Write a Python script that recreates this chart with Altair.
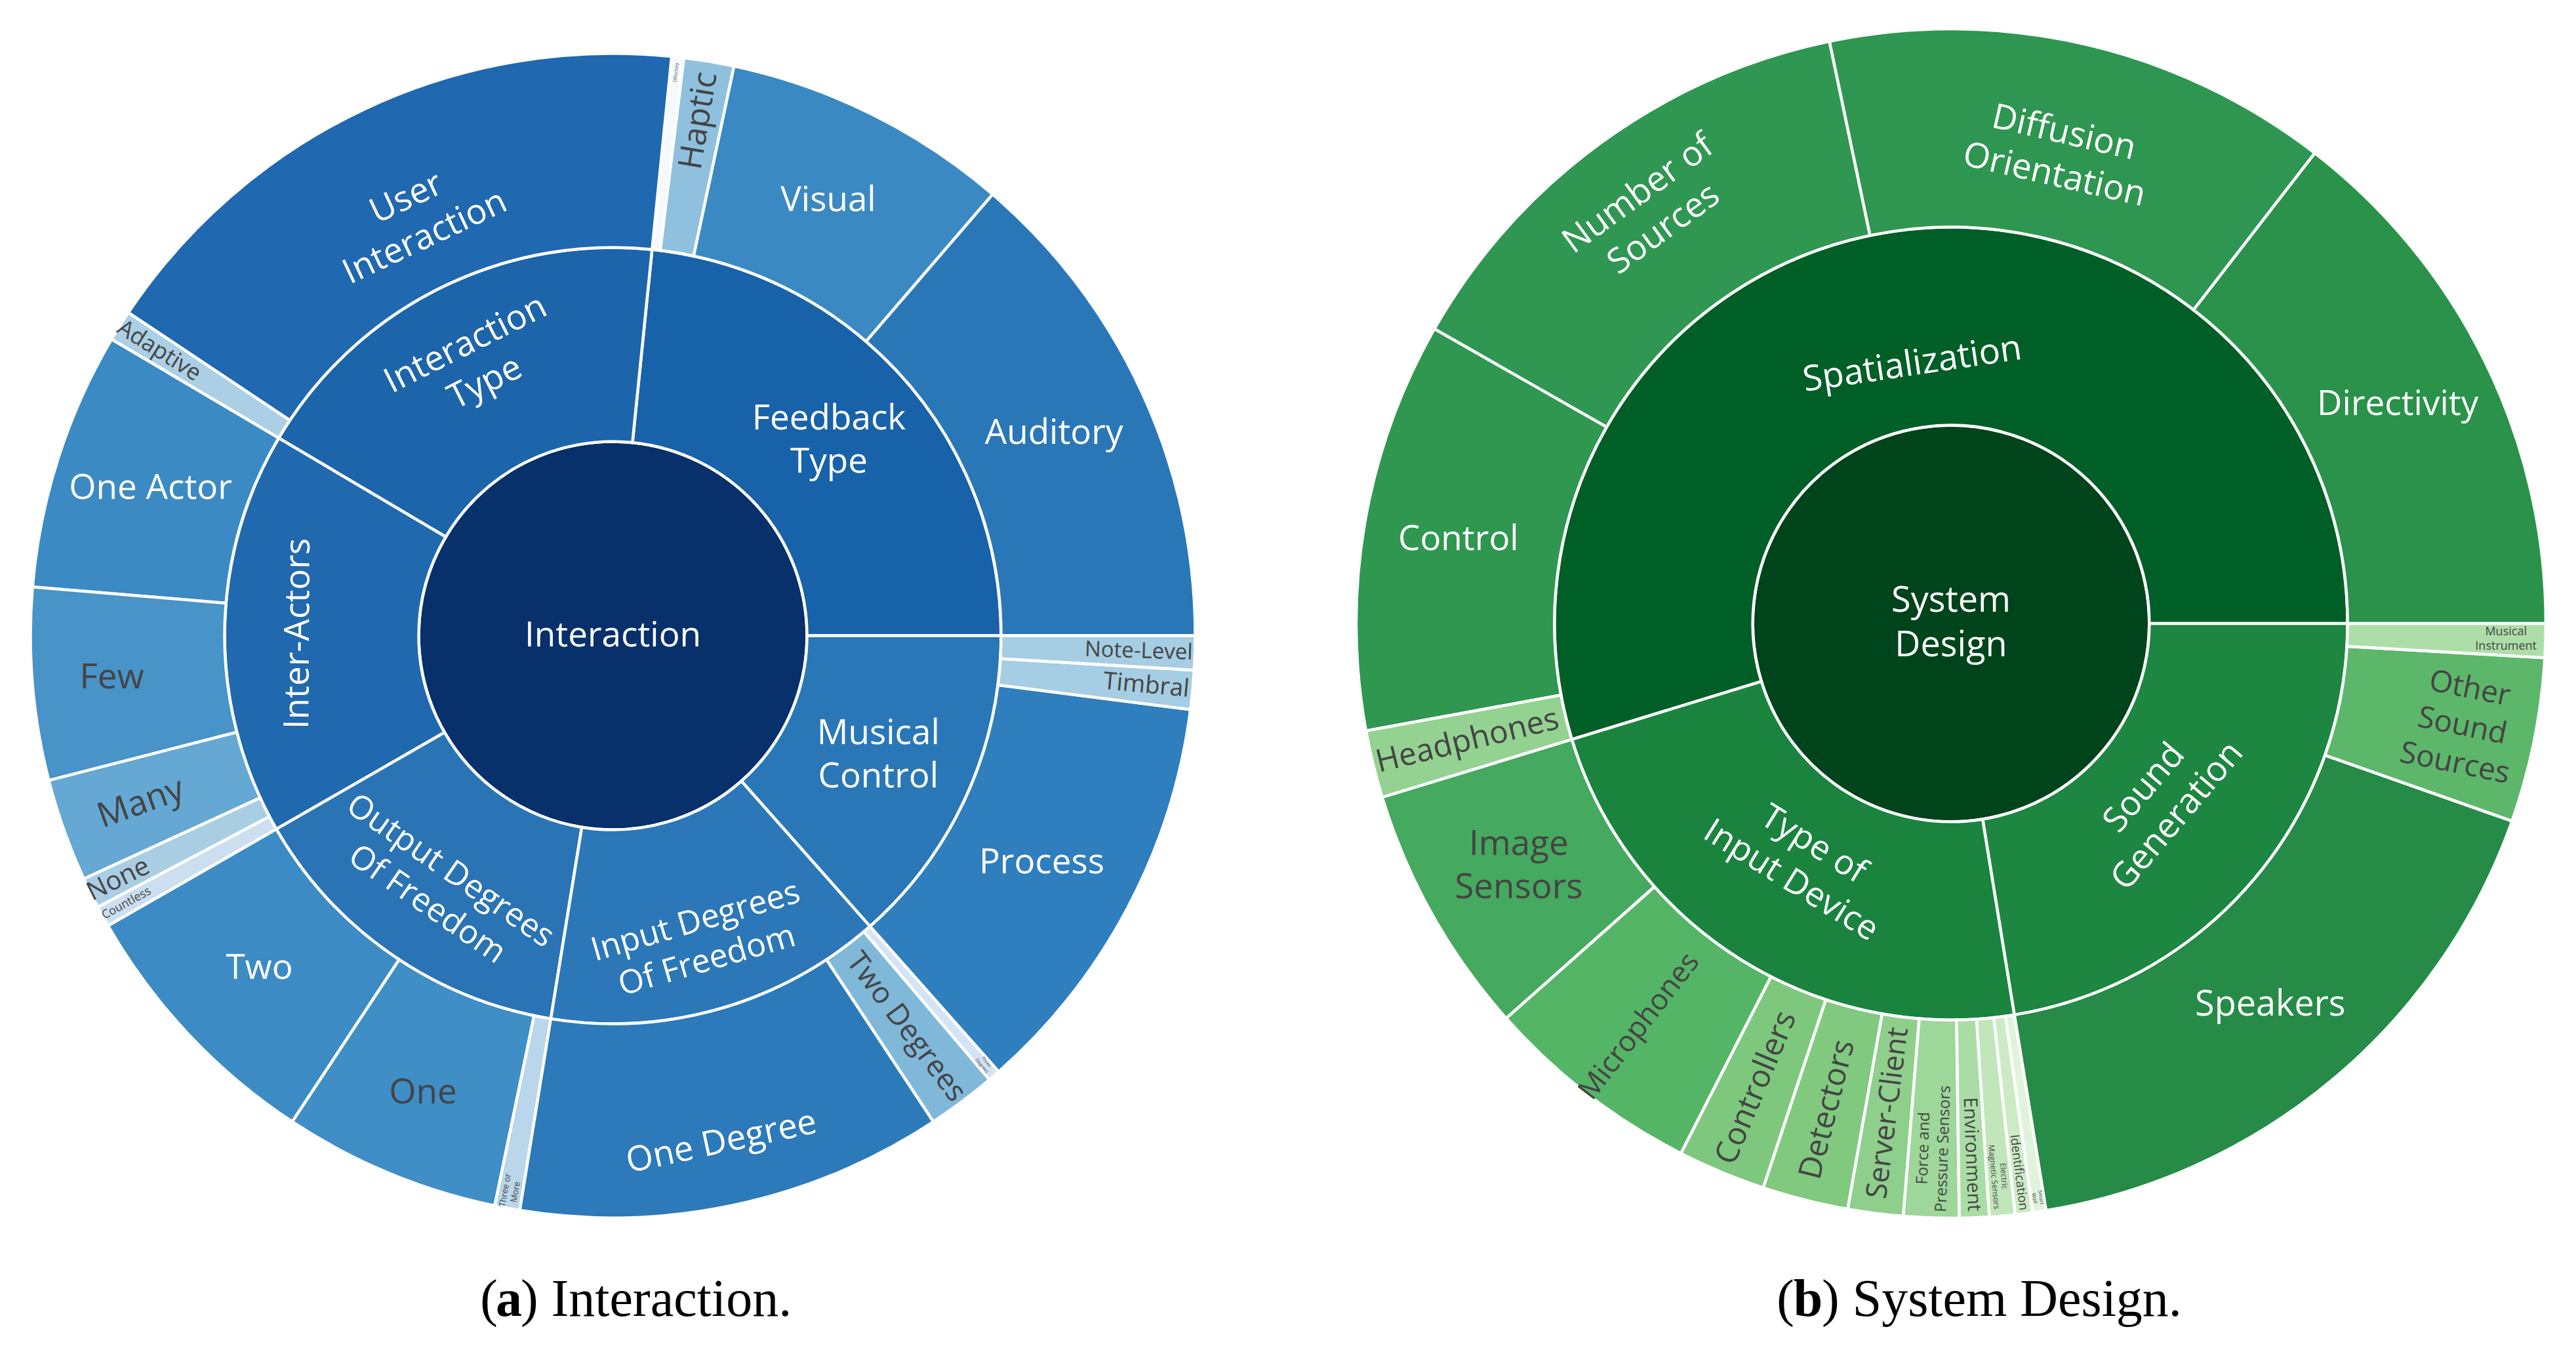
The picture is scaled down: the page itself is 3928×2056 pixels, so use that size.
import math
import altair as alt
import pandas as pd

# ---------------- (a) Interaction ----------------
A_ROOT = "Interaction"
A_INNER = ["Feedback Type", "Interaction Type", "Inter-Actors",
           "Output Degrees Of Freedom", "Input Degrees Of Freedom", "Musical Control"]
A_PARENT = (["Feedback Type"] * 4 + ["Interaction Type"] * 2 + ["Inter-Actors"] * 5 +
            ["Output Degrees Of Freedom"] * 3 + ["Input Degrees Of Freedom"] * 3 +
            ["Musical Control"] * 3)
A_LABEL = ["Auditory", "Visual", "Haptic", "Olfactory",
           "User Interaction", "Adaptive",
           "One Actor", "Few", "Many", "None", "Countless",
           "Two", "One", "Three or More",
           "One Degree", "Two Degrees", "Three Degrees",
           "Process", "Timbral", "Note-Level"]
A_VALUE = [49.3, 28.7, 5.0, 1.2,
           62.1, 3.1,
           25.8, 19.2, 10.3, 3.1, 2.1,
           26.7, 21.7, 2.5,
           42.6, 6.9, 1.2,
           41.2, 3.9, 3.4]

# ---------------- (b) System Design ----------------
B_ROOT = "System Design"
B_INNER = ["Spatialization", "Type of Input Device", "Sound Generation"]
B_PARENT = ["Spatialization"] * 5 + ["Type of Input Device"] * 10 + ["Sound Generation"] * 3
B_LABEL = ["Directivity", "Diffusion Orientation", "Number of Sources", "Control", "Headphones",
           "Image Sensors", "Microphones", "Controllers", "Detectors", "Server-Client",
           "Force and Pressure Sensors", "Environment", "Electric Magnetic Sensors",
           "Identification", "Smart Wall",
           "Speakers", "Other Sound Sources", "Musical Instrument"]
B_VALUE = [52.3, 49.5, 48.5, 40.1, 6.6,
           24.6, 21.4, 8.6, 8.4, 5.4, 5.4, 2.9, 2.5, 1.7, 1.3,
           61.4, 16.1, 3.3]

# ---------------- text line breaks ----------------
BREAKS = {
    "Feedback Type": "Feedback\nType",
    "Interaction Type": "Interaction\nType",
    "Output Degrees Of Freedom": "Output Degrees\nOf Freedom",
    "Input Degrees Of Freedom": "Input Degrees\nOf Freedom",
    "Musical Control": "Musical\nControl",
    "User Interaction": "User\nInteraction",
    "Three or More": "Three or\nMore",
    "Three Degrees": "Three\nDegrees",
    "System Design": "System\nDesign",
    "Type of Input Device": "Type of\nInput Device",
    "Sound Generation": "Sound\nGeneration",
    "Diffusion Orientation": "Diffusion\nOrientation",
    "Number of Sources": "Number of\nSources",
    "Image Sensors": "Image\nSensors",
    "Force and Pressure Sensors": "Force and\nPressure Sensors",
    "Electric Magnetic Sensors": "Electric\nMagnetic Sensors",
    "Smart Wall": "Smart\nWall",
    "Other Sound Sources": "Other\nSound\nSources",
    "Musical Instrument": "Musical\nInstrument",
}

# ---------------- styles: fill colours ----------------
FILL_A = {
    "Interaction": "#08306b",
    "Feedback Type": "#1862a9", "Interaction Type": "#1d65ab", "Inter-Actors": "#2169ae",
    "Output Degrees Of Freedom": "#2a74b5", "Input Degrees Of Freedom": "#2c77b8",
    "Musical Control": "#2a77b8",
    "Auditory": "#2a77b8", "Visual": "#3a89c3", "Haptic": "#8fc1de", "Olfactory": "#f5f9fe",
    "User Interaction": "#2068b0", "Adaptive": "#abcfe5",
    "One Actor": "#3b8ac4", "Few": "#4893c8", "Many": "#64a8d3", "None": "#a9cee4",
    "Countless": "#cbdff0",
    "Two": "#3d8bc4", "One": "#3f8ec6", "Three or More": "#bad6ea",
    "One Degree": "#2c7aba", "Two Degrees": "#80b8da", "Three Degrees": "#d4e4f4",
    "Process": "#2f7ebd", "Timbral": "#a5cde3", "Note-Level": "#a5cde3",
}
FILL_B = {
    "System Design": "#00441b",
    "Spatialization": "#005f26", "Type of Input Device": "#1a843f", "Sound Generation": "#1d8640",
    "Directivity": "#2a924a", "Diffusion Orientation": "#2e9650", "Number of Sources": "#2f9751",
    "Control": "#2f9750", "Headphones": "#93d291",
    "Image Sensors": "#45a95f", "Microphones": "#55b567", "Controllers": "#7dc87c",
    "Detectors": "#80c97f", "Server-Client": "#8ecf8b", "Force and Pressure Sensors": "#9dd799",
    "Environment": "#aadda5", "Electric Magnetic Sensors": "#c0e6ba", "Identification": "#cbebc4",
    "Smart Wall": "#e0f3db",
    "Speakers": "#258b46", "Other Sound Sources": "#5db76b", "Musical Instrument": "#aedea8",
}

# label style: (orientation h/t/r, font size, radial position in ring, dark text?)
STYLE_A = {
    "Interaction": ("h", 53, 0.0, False),
    "Feedback Type": ("h", 53, 0.5, False),
    "Interaction Type": ("t", 53, 0.57, False),
    "Inter-Actors": ("t", 53, 0.62, False),
    "Output Degrees Of Freedom": ("t", 50, 0.58, False),
    "Input Degrees Of Freedom": ("t", 50, 0.64, False),
    "Musical Control": ("h", 53, 0.5, False),
    "Auditory": ("h", 53, 0.5, False),
    "Visual": ("h", 53, 0.5, False),
    "Haptic": ("r", 50, 0.69, True),
    "Olfactory": ("r", 7, 0.92, True),
    "User Interaction": ("t", 53, 0.38, False),
    "Adaptive": ("r", 35, 0.76, True),
    "One Actor": ("h", 53, 0.5, False),
    "Few": ("h", 53, 0.59, True),
    "Many": ("r", 53, 0.58, True),
    "None": ("r", 40, 0.84, True),
    "Countless": ("r", 18, 0.86, True),
    "Two": ("h", 53, 0.5, False),
    "One": ("h", 53, 0.55, True),
    "Three or More": ("r", 13, 0.91, True),
    "One Degree": ("t", 53, 0.67, False),
    "Two Degrees": ("r", 45, 0.52, True),
    "Three Degrees": ("r", 7, 0.92, True),
    "Process": ("h", 53, 0.5, False),
    "Timbral": ("r", 37, 0.76, True),
    "Note-Level": ("r", 33, 0.71, True),
}
STYLE_B = {
    "System Design": ("h", 54, 0.0, False),
    "Spatialization": ("t", 54, 0.32, False),
    "Type of Input Device": ("t", 52, 0.42, False),
    "Sound Generation": ("t", 53, 0.39, False),
    "Directivity": ("h", 53, 0.51, False),
    "Diffusion Orientation": ("t", 53, 0.43, False),
    "Number of Sources": ("t", 53, 0.57, False),
    "Control": ("h", 53, 0.52, False),
    "Headphones": ("r", 48, 0.51, True),
    "Image Sensors": ("h", 53, 0.5, True),
    "Microphones": ("r", 44, 0.57, True),
    "Controllers": ("r", 48, 0.54, True),
    "Detectors": ("r", 48, 0.53, True),
    "Server-Client": ("r", 44, 0.49, True),
    "Force and Pressure Sensors": ("r", 24, 0.65, True),
    "Environment": ("r", 29, 0.68, True),
    "Electric Magnetic Sensors": ("r", 12, 0.8, True),
    "Identification": ("r", 19, 0.79, True),
    "Smart Wall": ("r", 8, 0.93, True),
    "Speakers": ("h", 54, 0.51, False),
    "Other Sound Sources": ("r", 46, 0.63, True),
    "Musical Instrument": ("h", 18, 0.8, True),
}


def rotation(mid, mode):
    if mode == "h":
        return 0.0
    d = mid - 90 if mode == "t" else mid
    d = ((d + 180) % 360) - 180
    if d > 90:
        d -= 180
    elif d <= -90:
        d += 180
    return (-d) % 360


def build(root, inner, parent, label, value, fills, style):
    rows = []

    def add(key, level, a0, a1):
        mode, fs, frac, dark = style[key]
        mid = (a0 + a1) / 2
        txt = BREAKS.get(key, key)
        rows.append(dict(key=key, txt=txt, nl=txt.count("\n") + 1, r0=level, r1=level + 1,
                         start=a0, end=a1, mid=mid,
                         rt=0 if level == 0 else level + frac,
                         rot=rotation(mid, mode), fs=fs, fill=fills[key],
                         tcol="#444444" if dark else "#ffffff"))

    add(root, 0, 0, 360)
    pos = 0.0
    for name in inner:
        tot = sum(v for p, v in zip(parent, value) if p == name)
        add(name, 1, pos, pos + tot)
        pos += tot
    pos = 0.0
    for l, v in zip(label, value):
        add(l, 2, pos, pos + v)
        pos += v
    return pd.DataFrame(rows)


W, H = 1950, 2030
LH = 1.25


def panel(df, cx, cy, R, cap):
    th = alt.Scale(domain=[0, 360], range=[math.pi / 2, math.pi / 2 - 2 * math.pi])
    rs = alt.Scale(type="linear", domain=[0, 3], range=[0, R])
    base = alt.Chart(df)
    arcs = base.mark_arc(stroke="white", strokeWidth=4.5).encode(
        x=alt.value(cx), y=alt.value(cy),
        theta=alt.Theta("start:Q", scale=th, stack=None),
        theta2="end:Q",
        radius=alt.Radius("r0:Q", scale=rs),
        radius2="r1:Q",
        fill=alt.Fill("fill:N", scale=None),
    )
    layers = [arcs]
    groups = sorted(set(zip(df["fs"].tolist(), df["nl"].tolist())))
    for fs, nl in groups:
        fs = float(fs)
        lh = round(fs * LH)
        layers.append(
            base.transform_filter(f"datum.fs == {fs} && datum.nl == {nl}").mark_text(
                font="Open Sans", fontSize=fs, lineBreak="\n",
                lineHeight=lh, align="center", baseline="middle",
                dy=-(nl - 1) * lh / 2
            ).encode(
                x=alt.value(cx), y=alt.value(cy),
                theta=alt.Theta("mid:Q", scale=th, stack=None),
                radius=alt.Radius("rt:Q", scale=rs),
                angle=alt.Angle("rot:Q", scale=None),
                text="txt:N",
                color=alt.Color("tcol:N", scale=None),
            )
        )
    (p_open, xo), (p_bold, xb), (p_rest, xr) = cap
    cy_cap = 1999
    layers.append(alt.Chart(pd.DataFrame({"t": [p_open]})).mark_text(
        font="Liberation Serif", fontSize=80, align="right", baseline="alphabetic", color="black"
    ).encode(text="t:N", x=alt.value(xo), y=alt.value(cy_cap)))
    layers.append(alt.Chart(pd.DataFrame({"t": [p_bold]})).mark_text(
        font="Liberation Serif", fontSize=80, fontWeight="bold", align="center",
        baseline="alphabetic", color="black"
    ).encode(text="t:N", x=alt.value(xb), y=alt.value(cy_cap)))
    layers.append(alt.Chart(pd.DataFrame({"t": [p_rest]})).mark_text(
        font="Liberation Serif", fontSize=80, align="left", baseline="alphabetic", color="black"
    ).encode(text="t:N", x=alt.value(xr), y=alt.value(cy_cap)))
    return alt.layer(*layers).properties(width=W, height=H)


dfa = build(A_ROOT, A_INNER, A_PARENT, A_LABEL, A_VALUE, FILL_A, STYLE_A)
dfb = build(B_ROOT, B_INNER, B_PARENT, B_LABEL, B_VALUE, FILL_B, STYLE_B)

left = panel(dfa, 926.5, 961.5, 888,
             [("(", 751), ("a", 768), (") Interaction.", 786)])
right = panel(dfb, 1017, 943, 907,
              [("(", 778), ("b", 799), (") System Design.", 820)])

chart = alt.hconcat(left, right, spacing=0).properties(
    padding=0, background="white"
).configure_view(stroke=None)

chart.save("out.html", embed_options={"renderer": "svg", "actions": False})
